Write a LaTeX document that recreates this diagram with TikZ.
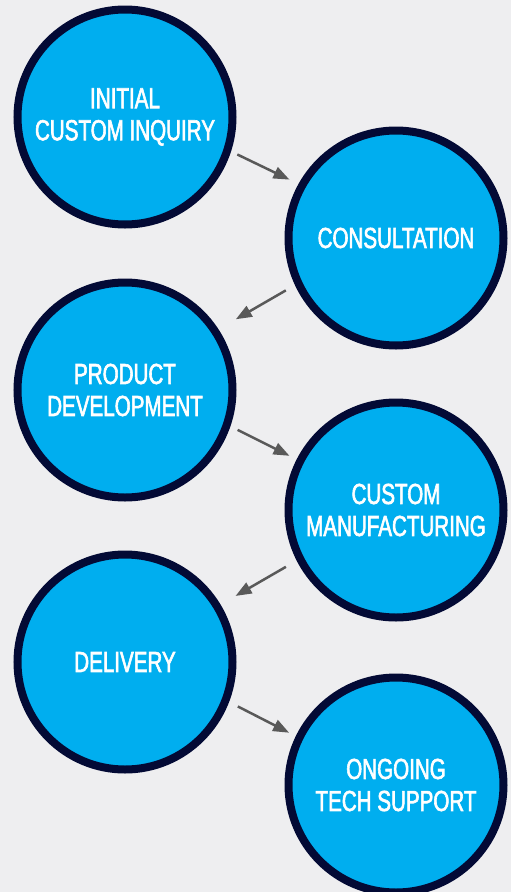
\documentclass[tikz,border=0pt]{standalone}
\usepackage{fontspec}
\setmainfont{Liberation Sans}[FakeStretch=0.71,FakeBold=2]
\usetikzlibrary{arrows.meta}
\definecolor{bgpanel}{HTML}{EEEEF0}
\definecolor{stepblue}{HTML}{00AEEF}
\definecolor{stepnavy}{HTML}{030A35}
\definecolor{arrowgray}{HTML}{595959}
\tikzset{
  stage/.style={circle, draw=stepnavy, fill=stepblue, line width=8pt,
    minimum size=215pt, inner sep=0pt, text=white, align=center,
    font=\fontsize{29}{32}\selectfont},
  flow/.style={draw=arrowgray, line width=2.5pt,
    -{Triangle[length=16pt,width=12pt]}}
}
\begin{document}
\begin{tikzpicture}[x=1pt,y=-1pt]
        \fill [bgpanel] (0,0) rectangle (511,892);
        \useasboundingbox (0,0) rectangle (511,892);
        \clip (0,0) rectangle (511,892);
        \node [stage] (inquiry) at (125,117) {INITIAL\\CUSTOM INQUIRY};
        \node [stage] (consult) at (396,238) {CONSULTATION};
        \node [stage] (develop) at (125,390) {PRODUCT\\DEVELOPMENT};
        \node [stage] (manufact) at (396,510) {CUSTOM\\MANUFACTURING};
        \node [stage] (delivery) at (125,662) {DELIVERY};
        \node [stage] (support) at (396,785) {ONGOING\\TECH SUPPORT};
        \draw [flow, shorten <=7pt, shorten >=10pt] (inquiry.-18) -- (consult.151.5);
        \draw [flow, shorten <=10.5pt, shorten >=20pt] (consult.205.7) -- (develop.33.2);
        \draw [flow, shorten <=8pt, shorten >=8pt] (develop.-19) -- (manufact.153.7);
        \draw [flow, shorten <=12.4pt, shorten >=17.3pt] (manufact.207.4) -- (delivery.31.3);
        \draw [flow, shorten <=9.8pt, shorten >=7.5pt] (delivery.-21.3) -- (support.154.1);
        \end{tikzpicture}
\end{document}
